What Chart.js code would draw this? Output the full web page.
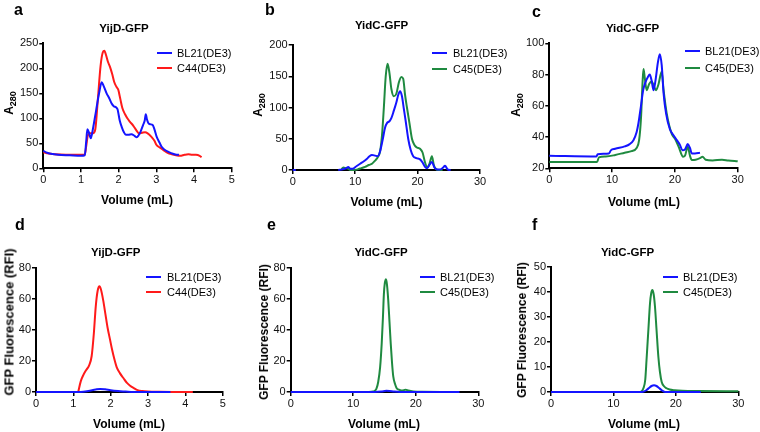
<!DOCTYPE html>
<html>
<head>
<meta charset="utf-8">
<script src="https://cdn.jsdelivr.net/npm/chart.js@4.4.0/dist/chart.umd.min.js"></script>
<style>
body { margin: 0; background: #fff; width: 760px; height: 432px; position: relative; overflow: hidden;
       font-family: "Liberation Sans", Arial, sans-serif; color: #000; }
.abs { position: absolute; white-space: nowrap; }
.letter { font-weight: bold; font-size: 16px; transform: translateY(-50%); }
.title { font-weight: bold; font-size: 11.5px; transform: translate(-50%, -50%); }
.xlab { font-weight: bold; font-size: 12px; transform: translate(-50%, -50%); }
.ylab { font-weight: bold; font-size: 12px; transform: translate(-50%, -50%) rotate(-90deg); }
.ylab sub { font-size: 9px; }
.leg { font-size: 11px; transform: translateY(-50%); }
.legline { height: 2.5px; width: 15px; }
canvas { position: absolute; }
</style>
</head>
<body>
<canvas id="ca" width="253" height="216" style="left:0;top:0"></canvas>
<canvas id="cb" width="253" height="216" style="left:253px;top:0"></canvas>
<canvas id="cc" width="254" height="216" style="left:506px;top:0"></canvas>
<canvas id="cd" width="253" height="216" style="left:0;top:216px"></canvas>
<canvas id="ce" width="253" height="216" style="left:253px;top:216px"></canvas>
<canvas id="cf" width="254" height="216" style="left:506px;top:216px"></canvas>
<div id="labels"></div>
<script>
// colours
const BLUE = '#1414ff';
const RED = '#ff1a1a';
const GREEN = '#1f8a40';

// a: YijD-GFP, A280
const aBlVol = [0, 0.1, 0.2, 0.4, 0.7, 1.0, 1.1, 1.14, 1.17, 1.21, 1.26, 1.32, 1.4, 1.48, 1.55, 1.6, 1.68, 1.75, 1.81, 1.87, 1.93, 1.97, 2.03, 2.08, 2.14, 2.19, 2.26, 2.34, 2.42, 2.48, 2.53, 2.58, 2.65, 2.69, 2.72, 2.75, 2.79, 2.84, 2.9, 2.95, 3.01, 3.08, 3.14, 3.22, 3.32, 3.44, 3.54, 3.6];
const aBlVal = [35, 31, 29, 27, 26, 25, 26, 55, 78, 72, 60, 80, 115, 150, 172, 165, 150, 140, 130, 124, 122, 118, 95, 83, 72, 67, 67, 68, 65, 62, 66, 73, 87, 95, 108, 98, 90, 88, 87, 78, 63, 52, 43, 37, 33, 29, 27, 27];
const aC44Vol = [0, 0.1, 0.3, 0.6, 0.9, 1.1, 1.14, 1.18, 1.24, 1.32, 1.38, 1.45, 1.52, 1.58, 1.62, 1.67, 1.72, 1.77, 1.83, 1.88, 1.94, 1.99, 2.04, 2.1, 2.17, 2.23, 2.3, 2.39, 2.47, 2.54, 2.62, 2.7, 2.77, 2.87, 2.95, 3.0, 3.08, 3.18, 3.3, 3.41, 3.52, 3.63, 3.75, 3.85, 3.95, 4.05, 4.15, 4.2];
const aC44Val = [32, 30, 28, 27, 27, 27, 45, 65, 70, 70, 78, 140, 205, 232, 235, 225, 212, 203, 188, 173, 163, 157, 140, 120, 108, 100, 93, 85, 76, 70, 71, 72, 70, 63, 55, 47, 42, 37, 31, 28, 26, 25, 27, 28, 27, 27, 25, 22];

// b: YidC-GFP, A280
const bBlVol = [0, 0.5, 0.6, 7.3, 8.0, 8.6, 8.9, 9.2, 9.6, 10.2, 10.8, 11.4, 11.9, 12.3, 12.7, 13.2, 13.6, 14.0, 14.4, 14.8, 15.1, 15.5, 15.8, 16.2, 16.6, 16.9, 17.2, 17.5, 17.8, 18.1, 18.5, 18.9, 19.3, 19.8, 20.4, 20.8, 21.2, 21.5, 21.9, 22.3, 22.7, 23.1, 23.6, 24.1, 24.4, 24.8, 25.3];
const bBlVal = [0, 0, null, 0, 1, 3, 5, 2, 2, 6, 10, 14, 18, 22, 24, 23, 22, 30, 48, 68, 75, 78, 83, 95, 108, 120, 126, 118, 98, 78, 50, 32, 22, 19, 17, 12, 5, 3, 8, 13, 4, 1, 1, 4, 7, 1, 0];
const bC45Vol = [7.8, 8.1, 8.5, 8.9, 9.3, 9.8, 10.4, 11.0, 11.6, 12.2, 12.7, 13.2, 13.6, 14.0, 14.3, 14.6, 14.9, 15.2, 15.5, 15.8, 16.2, 16.6, 17.0, 17.4, 17.7, 18.0, 18.3, 18.7, 19.1, 19.5, 19.9, 20.4, 20.8, 21.2, 21.6, 21.9, 22.3, 22.6, 22.9, 23.4, 24.0];
const bC45Val = [1, 4, 3, 2, 0, 0, 1, 3, 5, 8, 10, 15, 20, 30, 55, 100, 150, 170, 155, 130, 118, 122, 140, 149, 146, 120, 100, 75, 50, 40, 36, 34, 28, 12, 4, 10, 22, 8, 2, 0, 0];

// c: YidC-GFP, A280
const cBlVol = [0, 7.5, 7.7, 9.5, 9.8, 10.5, 12.0, 12.8, 13.4, 13.9, 14.2, 14.6, 14.95, 15.3, 15.7, 16.0, 16.3, 16.6, 16.9, 17.3, 17.6, 17.9, 18.2, 18.6, 19.2, 19.8, 20.3, 20.8, 21.2, 21.6, 22.05, 22.4, 22.7, 23.2, 24.0];
const cBlVal = [28, 27.5, 29, 29.5, 31.5, 32.5, 34, 35.5, 38, 43, 49, 60, 70, 75, 78.5, 80, 76, 70, 76, 88, 93, 86, 68, 55, 45, 41, 38, 35, 31.5, 32, 35.5, 33, 29.5, 29.5, 30];
const cC45Vol = [0, 7.6, 7.9, 9.0, 10.5, 12.0, 13.1, 13.9, 14.3, 14.6, 14.85, 15.0, 15.2, 15.5, 15.9, 16.3, 16.7, 17.0, 17.4, 17.9, 18.2, 18.7, 19.5, 20.0, 20.6, 21.3, 21.6, 22.05, 22.4, 22.7, 23.3, 24.0, 24.4, 24.9, 26, 27.5, 28.5, 30];
const cC45Val = [24, 24, 27, 27.5, 28.5, 30, 31, 33, 38, 52, 75, 83.5, 78, 70, 74, 75.5, 72, 70, 74, 82, 70, 55, 42, 39, 33.8, 27.4, 28, 33.8, 28, 25.3, 25.5, 26.5, 27.4, 25.5, 25, 25.5, 25, 24.5];

// d: YijD-GFP, fluorescence
const dBlVol = [0, 1.2, 1.4, 1.6, 1.72, 1.85, 2.0, 2.2, 2.4, 2.6, 3.6];
const dBlVal = [0, 0, 0.6, 1.6, 2, 1.7, 1.1, 0.6, 0.3, 0, 0];
const dC44Vol = [1.13, 1.2, 1.27, 1.34, 1.42, 1.49, 1.55, 1.6, 1.65, 1.7, 1.74, 1.8, 1.86, 1.92, 1.98, 2.04, 2.1, 2.16, 2.25, 2.34, 2.43, 2.52, 2.62, 2.72, 2.85, 3.0, 3.3, 3.65, 4.2];
const dC44Val = [0, 7, 11, 14, 17, 23, 38, 55, 65, 68, 66, 59, 50, 41, 34, 27, 21, 16, 12, 9, 6, 4, 2.5, 1.2, 0.6, 0.3, 0.1, 0, 0];

// e: YidC-GFP, fluorescence
const eBlVol = [0, 13.5, 14.5, 15.3, 15.8, 16.5, 17.5, 27];
const eBlVal = [0, 0, 0.3, 0.8, 0.7, 0.3, 0, 0];
const eC45Vol = [10, 12.5, 13.2, 13.7, 14.0, 14.3, 14.55, 14.75, 14.9, 15.05, 15.24, 15.4, 15.6, 15.8, 16.0, 16.2, 16.4, 16.7, 16.95, 17.3, 17.7, 18.1, 18.4, 18.8, 19.6, 21, 25];
const eC45Val = [0, 0, 0.3, 2, 6.6, 16, 31, 48, 63, 70, 72.5, 69, 59, 45, 31, 19, 10, 5, 2.4, 1.5, 1, 1.2, 1.5, 1, 0.4, 0.1, 0];

// f: YidC-GFP, fluorescence
const fBlVol = [0, 14.6, 15.2, 15.7, 16.1, 16.5, 16.9, 17.3, 17.8, 18.3, 24];
const fBlVal = [0, 0, 0.6, 1.6, 2.4, 2.7, 2.4, 1.6, 0.6, 0, 0];
const fC45Vol = [0, 14.3, 14.8, 15.1, 15.3, 15.6, 15.86, 16.05, 16.23, 16.45, 16.66, 16.9, 17.2, 17.45, 17.73, 18.1, 18.5, 19.0, 19.8, 21, 24, 30];
const fC45Val = [0, 0, 1.5, 5, 12.8, 25, 35.5, 39.5, 40.8, 39, 34, 25, 14, 8, 4, 2.3, 1.5, 1, 0.7, 0.5, 0.4, 0.3];

// tick values
const xTicksSmall = [0, 1, 2, 3, 4, 5];
const xTicksLarge = [0, 10, 20, 30];
const aYTicks = [0, 50, 100, 150, 200, 250];
const bYTicks = [0, 50, 100, 150, 200];
const cYTicks = [20, 40, 60, 80, 100];
const deYTicks = [0, 20, 40, 60, 80];
const fYTicks = [0, 10, 20, 30, 40, 50];

// fixed sizes of the axis boxes, so the plot area lands where we want it
const Y_AXIS_W = 28;
const X_AXIS_H = 18;

function pts(xs, ys) {
    return xs.map((x, i) => ({ x: x, y: ys[i] }));
}

function line(label, color, xs, ys) {
    return {
        label: label,
        data: pts(xs, ys),
        borderColor: color,
        borderWidth: 2,
        pointRadius: 0,
        fill: false,
        cubicInterpolationMode: 'monotone',
        clip: false
    };
}

function axis(ticks, extra) {
    return Object.assign({
        type: 'linear',
        min: ticks[0],
        max: ticks[ticks.length - 1],
        afterBuildTicks: s => { s.ticks = ticks.map(v => ({ value: v })); },
        grid: { display: true, drawOnChartArea: false, drawTicks: true, tickLength: 4, color: '#000', lineWidth: 1.5 },
        border: { display: true, color: '#000', width: 2 },
        ticks: { color: '#111', padding: 1, maxRotation: 0, autoSkip: false, font: { family: 'Liberation Sans', size: 11 } }
    }, extra);
}

// area = [left, top, right, bottom] in page pixels, box = canvas [x, y, w, h]
function makePanel(id, box, area, xTicks, yTicks, datasets) {
    new Chart(document.getElementById(id), {
        type: 'line',
        data: { datasets: datasets },
        options: {
            responsive: false,
            animation: false,
            layout: {
                padding: {
                    left: area[0] - box[0] - Y_AXIS_W,
                    top: area[1] - box[1],
                    right: box[0] + box[2] - area[2],
                    bottom: box[1] + box[3] - area[3] - X_AXIS_H
                }
            },
            plugins: { legend: { display: false }, tooltip: { enabled: false } },
            scales: {
                x: axis(xTicks, { afterFit: s => { s.height = X_AXIS_H; } }),
                y: axis(yTicks, { afterFit: s => { s.width = Y_AXIS_W; } })
            }
        }
    });
}

makePanel('ca', [0, 0, 253, 216], [43.3, 43.3, 231.7, 168.3], xTicksSmall, aYTicks,
    [line('BL21(DE3)', BLUE, aBlVol, aBlVal), line('C44(DE3)', RED, aC44Vol, aC44Val)]);
makePanel('cb', [253, 0, 253, 216], [292.7, 45, 480, 170], xTicksLarge, bYTicks,
    [line('BL21(DE3)', BLUE, bBlVol, bBlVal), line('C45(DE3)', GREEN, bC45Vol, bC45Val)]);
makePanel('cc', [506, 0, 254, 216], [549.3, 43.3, 737.7, 168.3], xTicksLarge, cYTicks,
    [line('BL21(DE3)', BLUE, cBlVol, cBlVal), line('C45(DE3)', GREEN, cC45Vol, cC45Val)]);
makePanel('cd', [0, 216, 253, 216], [36, 267.7, 222.7, 392], xTicksSmall, deYTicks,
    [line('BL21(DE3)', BLUE, dBlVol, dBlVal), line('C44(DE3)', RED, dC44Vol, dC44Val)]);
makePanel('ce', [253, 216, 253, 216], [290.7, 267.7, 478.3, 392], xTicksLarge, deYTicks,
    [line('BL21(DE3)', BLUE, eBlVol, eBlVal), line('C45(DE3)', GREEN, eC45Vol, eC45Val)]);
makePanel('cf', [506, 216, 254, 216], [551, 267, 738.3, 392], xTicksLarge, fYTicks,
    [line('BL21(DE3)', BLUE, fBlVol, fBlVal), line('C45(DE3)', GREEN, fC45Vol, fC45Val)]);

// text around the plots
const A280 = 'A<sub>280</sub>';
const GFP = 'GFP Fluorescence (RFI)';
const panels = [
    { letter: 'a', lx: 14, ly: 10, title: 'YijD-GFP', tx: 124, ty: 28, xl: [137, 200], yl: [10, 103], ytxt: A280,
      leg: [157, 177, 53, 68], names: ['BL21(DE3)', 'C44(DE3)'], colors: [BLUE, RED] },
    { letter: 'b', lx: 265, ly: 10, title: 'YidC-GFP', tx: 381.5, ty: 25, xl: [386.5, 201.5], yl: [259, 105], ytxt: A280,
      leg: [432, 453, 53, 69], names: ['BL21(DE3)', 'C45(DE3)'], colors: [BLUE, GREEN] },
    { letter: 'c', lx: 532, ly: 12, title: 'YidC-GFP', tx: 632.5, ty: 28, xl: [644, 201.5], yl: [517, 105], ytxt: A280,
      leg: [685, 705, 51, 68], names: ['BL21(DE3)', 'C45(DE3)'], colors: [BLUE, GREEN] },
    { letter: 'd', lx: 15, ly: 225, title: 'YijD-GFP', tx: 115.7, ty: 252, xl: [129, 423.5], yl: [8.7, 322], ytxt: GFP, ysize: 13,
      leg: [146, 167, 277, 292], names: ['BL21(DE3)', 'C44(DE3)'], colors: [BLUE, RED] },
    { letter: 'e', lx: 267, ly: 225, title: 'YidC-GFP', tx: 381, ty: 252, xl: [384, 424], yl: [264, 332], ytxt: GFP,
      leg: [420, 440, 277, 292], names: ['BL21(DE3)', 'C45(DE3)'], colors: [BLUE, GREEN] },
    { letter: 'f', lx: 532, ly: 225, title: 'YidC-GFP', tx: 627.5, ty: 252, xl: [644, 424], yl: [522, 330], ytxt: GFP,
      leg: [663, 683, 277, 292], names: ['BL21(DE3)', 'C45(DE3)'], colors: [BLUE, GREEN] }
];

let html = '';
panels.forEach(function(p) {
    html += `<div class="abs letter" style="left:${p.lx}px;top:${p.ly}px">${p.letter}</div>`;
    html += `<div class="abs title" style="left:${p.tx}px;top:${p.ty}px">${p.title}</div>`;
    html += `<div class="abs xlab" style="left:${p.xl[0]}px;top:${p.xl[1]}px">Volume (mL)</div>`;
    html += `<div class="abs ylab" style="left:${p.yl[0]}px;top:${p.yl[1]}px;${p.ysize ? 'font-size:' + p.ysize + 'px' : ''}">${p.ytxt}</div>`;
    p.names.forEach(function(name, i) {
        const y = p.leg[2 + i];
        html += `<div class="abs legline" style="left:${p.leg[0]}px;top:${y - 1.25}px;background:${p.colors[i]}"></div>`;
        html += `<div class="abs leg" style="left:${p.leg[1]}px;top:${y}px">${name}</div>`;
    });
});
document.getElementById('labels').innerHTML = html;
</script>
</body>
</html>
